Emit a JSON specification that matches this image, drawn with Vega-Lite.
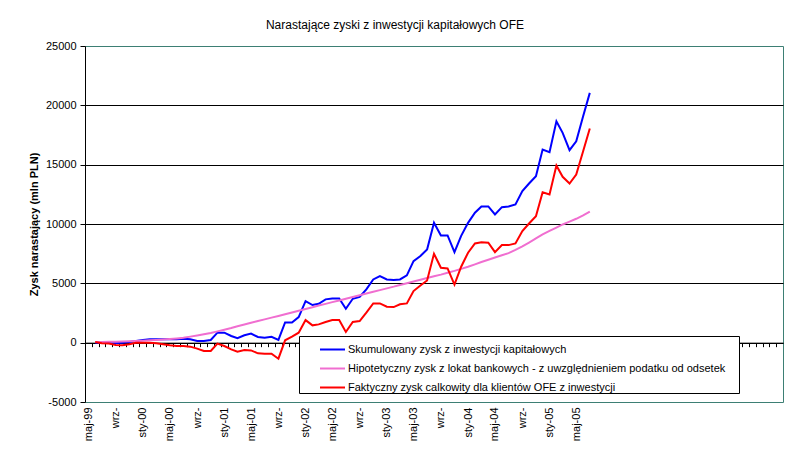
{
  "$schema": "https://vega.github.io/schema/vega-lite/v6.json",
  "width": 698,
  "height": 356,
  "autosize": {"type": "none"},
  "padding": {"left": 85, "top": 46, "right": 5, "bottom": 58},
  "background": "white",
  "title": {
    "text": "Narastające zyski z inwestycji kapitałowych OFE",
    "font": "Liberation Sans",
    "fontSize": 12,
    "fontWeight": "normal",
    "color": "black",
    "anchor": "middle",
    "frame": "group",
    "dx": -39,
    "offset": 8
  },
  "data": {
    "values": [
      {"d": "1999-06-01", "S": 0, "H": 50, "F": 50},
      {"d": "1999-07-01", "S": 0, "H": 60, "F": -50},
      {"d": "1999-08-01", "S": 0, "H": 70, "F": -80},
      {"d": "1999-09-01", "S": -30, "H": 85, "F": -190},
      {"d": "1999-10-01", "S": 0, "H": 100, "F": -225},
      {"d": "1999-11-01", "S": 60, "H": 120, "F": -140},
      {"d": "1999-12-01", "S": 140, "H": 140, "F": 0},
      {"d": "2000-01-01", "S": 225, "H": 165, "F": 0},
      {"d": "2000-02-01", "S": 280, "H": 195, "F": 0},
      {"d": "2000-03-01", "S": 280, "H": 230, "F": -50},
      {"d": "2000-04-01", "S": 280, "H": 270, "F": -140},
      {"d": "2000-05-01", "S": 280, "H": 310, "F": -225},
      {"d": "2000-06-01", "S": 280, "H": 360, "F": -280},
      {"d": "2000-07-01", "S": 330, "H": 420, "F": -280},
      {"d": "2000-08-01", "S": 280, "H": 510, "F": -335},
      {"d": "2000-09-01", "S": 140, "H": 610, "F": -505},
      {"d": "2000-10-01", "S": 140, "H": 710, "F": -700},
      {"d": "2000-11-01", "S": 225, "H": 820, "F": -700},
      {"d": "2000-12-01", "S": 840, "H": 950, "F": -80},
      {"d": "2001-01-01", "S": 840, "H": 1095, "F": -280},
      {"d": "2001-02-01", "S": 560, "H": 1240, "F": -560},
      {"d": "2001-03-01", "S": 370, "H": 1385, "F": -760},
      {"d": "2001-04-01", "S": 620, "H": 1530, "F": -620},
      {"d": "2001-05-01", "S": 760, "H": 1675, "F": -650},
      {"d": "2001-06-01", "S": 480, "H": 1820, "F": -900},
      {"d": "2001-07-01", "S": 420, "H": 1965, "F": -930},
      {"d": "2001-08-01", "S": 500, "H": 2110, "F": -930},
      {"d": "2001-09-01", "S": 230, "H": 2255, "F": -1350},
      {"d": "2001-10-01", "S": 1700, "H": 2400, "F": 200},
      {"d": "2001-11-01", "S": 1700, "H": 2545, "F": 505},
      {"d": "2001-12-01", "S": 2150, "H": 2690, "F": 840},
      {"d": "2002-01-01", "S": 3500, "H": 2835, "F": 1900},
      {"d": "2002-02-01", "S": 3170, "H": 2980, "F": 1460},
      {"d": "2002-03-01", "S": 3280, "H": 3125, "F": 1540},
      {"d": "2002-04-01", "S": 3650, "H": 3270, "F": 1740},
      {"d": "2002-05-01", "S": 3730, "H": 3415, "F": 1900},
      {"d": "2002-06-01", "S": 3730, "H": 3560, "F": 1900},
      {"d": "2002-07-01", "S": 2860, "H": 3705, "F": 900},
      {"d": "2002-08-01", "S": 3700, "H": 3850, "F": 1740},
      {"d": "2002-09-01", "S": 3850, "H": 3995, "F": 1820},
      {"d": "2002-10-01", "S": 4490, "H": 4140, "F": 2530},
      {"d": "2002-11-01", "S": 5330, "H": 4285, "F": 3310},
      {"d": "2002-12-01", "S": 5610, "H": 4430, "F": 3310},
      {"d": "2003-01-01", "S": 5330, "H": 4575, "F": 3030},
      {"d": "2003-02-01", "S": 5280, "H": 4720, "F": 3000},
      {"d": "2003-03-01", "S": 5330, "H": 4865, "F": 3230},
      {"d": "2003-04-01", "S": 5670, "H": 5010, "F": 3310},
      {"d": "2003-05-01", "S": 6870, "H": 5155, "F": 4350},
      {"d": "2003-06-01", "S": 7300, "H": 5300, "F": 4820},
      {"d": "2003-07-01", "S": 7860, "H": 5445, "F": 5240},
      {"d": "2003-08-01", "S": 10100, "H": 5590, "F": 7490},
      {"d": "2003-09-01", "S": 9040, "H": 5735, "F": 6310},
      {"d": "2003-10-01", "S": 9040, "H": 5890, "F": 6260},
      {"d": "2003-11-01", "S": 7630, "H": 6050, "F": 4900},
      {"d": "2003-12-01", "S": 9000, "H": 6220, "F": 6400},
      {"d": "2004-01-01", "S": 10100, "H": 6400, "F": 7580},
      {"d": "2004-02-01", "S": 10950, "H": 6600, "F": 8360},
      {"d": "2004-03-01", "S": 11480, "H": 6800, "F": 8470},
      {"d": "2004-04-01", "S": 11480, "H": 6990, "F": 8420},
      {"d": "2004-05-01", "S": 10800, "H": 7180, "F": 7630},
      {"d": "2004-06-01", "S": 11420, "H": 7360, "F": 8220},
      {"d": "2004-07-01", "S": 11480, "H": 7540, "F": 8220},
      {"d": "2004-08-01", "S": 11650, "H": 7820, "F": 8360},
      {"d": "2004-09-01", "S": 12770, "H": 8120, "F": 9400},
      {"d": "2004-10-01", "S": 13410, "H": 8440, "F": 10040},
      {"d": "2004-11-01", "S": 14030, "H": 8780, "F": 10660},
      {"d": "2004-12-01", "S": 16280, "H": 9120, "F": 12680},
      {"d": "2005-01-01", "S": 16050, "H": 9420, "F": 12490},
      {"d": "2005-02-01", "S": 18660, "H": 9700, "F": 14930},
      {"d": "2005-03-01", "S": 17680, "H": 9960, "F": 13980},
      {"d": "2005-04-01", "S": 16220, "H": 10200, "F": 13410},
      {"d": "2005-05-01", "S": 16970, "H": 10440, "F": 14170},
      {"d": "2005-06-01", "S": 19080, "H": 10730, "F": 16130},
      {"d": "2005-07-01", "S": 21050, "H": 11050, "F": 18040}
    ]
  },
  "transform": [{"fold": ["S", "H", "F"], "as": ["k", "v"]}],
  "encoding": {
    "y": {
      "field": "v",
      "type": "quantitative",
      "scale": {"domain": [-5000, 25000], "nice": false},
      "axis": {
        "title": "Zysk narastający (mln PLN)",
        "titleFont": "Liberation Sans",
        "titleFontSize": 11,
        "titleFontWeight": "bold",
        "titleColor": "black",
        "titlePadding": 6,
        "values": [-5000, 0, 5000, 10000, 15000, 20000, 25000],
        "labelExpr": "datum.value + ''",
        "labelFont": "Liberation Sans",
        "labelFontSize": 11,
        "labelColor": "black",
        "labelPadding": 4,
        "tickColor": "black",
        "tickSize": 5,
        "domainColor": "black",
        "grid": true,
        "gridOpacity": 1,
        "gridColor": {
          "condition": {"test": "datum.value == 25000 || datum.value == -5000", "value": "transparent"},
          "value": "black"
        }
      }
    }
  },
  "layer": [
    {
      "mark": {"type": "line", "strokeWidth": 2},
      "encoding": {
        "x": {
          "field": "d",
          "type": "temporal",
          "scale": {
            "type": "utc",
            "domain": [
              {"year": 1999, "month": 4, "date": 16, "utc": true},
              {"year": 2007, "month": 11, "date": 16, "utc": true}
            ]
          },
          "axis": {
            "orient": "bottom",
            "title": null,
            "domain": false,
            "ticks": false,
            "grid": false,
            "tickCount": {"interval": "month", "step": 4},
            "labelAngle": -90,
            "labelFont": "Liberation Sans",
            "labelFontSize": 11,
            "labelColor": "black",
            "labelPadding": 5,
            "labelOverlap": false,
            "labelFlush": false,
            "labelExpr": "utcyear(datum.value) > 2005 || (utcyear(datum.value) == 2005 && utcmonth(datum.value) > 4) ? '' : ['sty','lut','mar','kwi','maj','cze','lip','sie','wrz','paź','lis','gru'][utcmonth(datum.value)] + '-' + (utcmonth(datum.value) == 8 ? '' : utcFormat(datum.value, '%y'))"
          }
        },
        "color": {
          "field": "k",
          "type": "nominal",
          "scale": {"domain": ["S", "H", "F"], "range": ["#0000ff", "#f06ed0", "#ff0000"]},
          "legend": {
            "orient": "none",
            "legendX": 214,
            "legendY": 290,
            "title": " ",
            "titleOrient": "right",
            "titlePadding": 14,
            "titleFontSize": 4,
            "fillColor": "white",
            "strokeColor": "black",
            "padding": 0,
            "rowPadding": -5.5,
            "symbolType": "stroke",
            "symbolSize": 625,
            "symbolStrokeWidth": 2,
            "symbolOffset": 20,
            "labelOffset": 2,
            "labelFont": "Liberation Sans",
            "labelFontSize": 11,
            "labelColor": "black",
            "labelLimit": 500,
            "labelExpr": "datum.label == 'S' ? 'Skumulowany zysk z inwestycji kapitałowych' : datum.label == 'H' ? 'Hipotetyczny zysk z lokat bankowych - z uwzględnieniem podatku od odsetek' : 'Faktyczny zysk calkowity dla klientów OFE z inwestycji'"
          }
        }
      }
    },
    {
      "mark": {"type": "point", "opacity": 0},
      "encoding": {
        "x": {
          "field": "d",
          "type": "temporal",
          "scale": {
            "type": "utc",
            "domain": [
              {"year": 1999, "month": 4, "date": 16, "utc": true},
              {"year": 2007, "month": 11, "date": 16, "utc": true}
            ]
          },
          "axis": {
            "orient": "bottom",
            "offset": -59.33,
            "title": null,
            "labels": false,
            "grid": false,
            "domain": true,
            "domainColor": "black",
            "ticks": true,
            "tickColor": "black",
            "tickSize": 4,
            "tickOffset": -3.4,
            "tickCount": {"interval": "month", "step": 1}
          }
        }
      }
    }
  ],
  "resolve": {"axis": {"x": "independent"}},
  "config": {
    "view": {"stroke": "#3d7f74", "strokeWidth": 1}
  }
}
